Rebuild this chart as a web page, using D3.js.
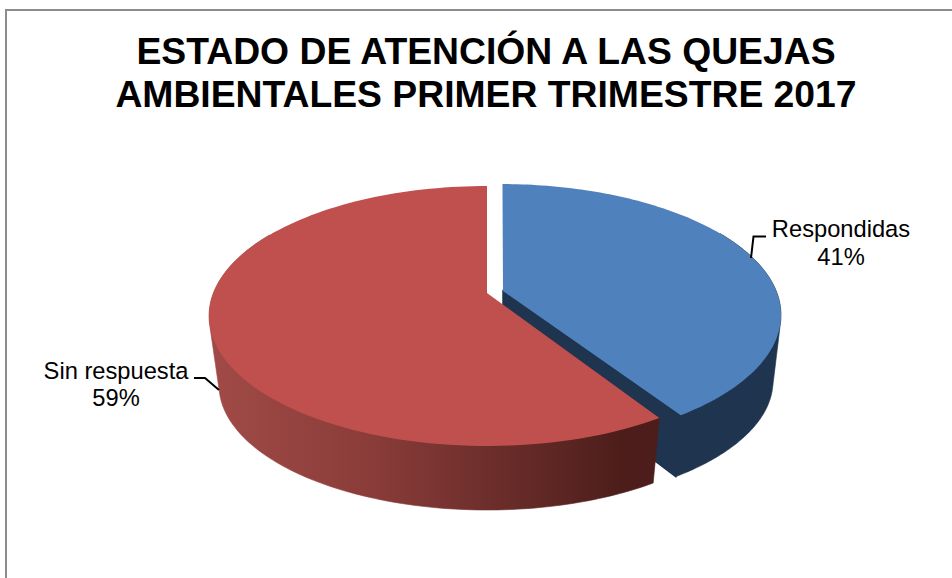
<!DOCTYPE html>
<html><head><meta charset="utf-8">
<script src="https://cdn.jsdelivr.net/npm/d3@7"></script>
<style>html,body{margin:0;padding:0;background:#fff}svg{display:block}text{font-family:"Liberation Sans",Arial,sans-serif;fill:#000}</style>
</head><body><svg id="c" width="952" height="578"></svg>
<script>
const categories = ["Respondidas", "Sin respuesta"];
const values = [41, 59];
const titleLines = ["ESTADO DE ATENCIÓN A LAS QUEJAS", "AMBIENTALES PRIMER TRIMESTRE 2017"];

const svg = d3.select("#c");
const K = 0.177;
const toRad = Math.PI / 180;

// perspective projection of a point on the unit disc into a unit-circle frame
function project(theta) {
  const x = Math.sin(theta), y = -Math.cos(theta), w = 1 - K * y;
  return [x * Math.sqrt(1 - K * K) / w, y / w * (1 - K * K) - K];
}
const slices = d3.pie().sort(null)(values).map((d, i) => ({...d, name: categories[i]}));
const looks = [
  {face:"#4f81bd", wall:"#1f344f", top:{cx:500,cy:315,rx:281,ry:131}, bottom:{cx:500,cy:381,rx:273,ry:125},
   apex:[503,291], apexBottom:[503,346], startAdj:0.6, endAdj:-1.5, wallFrom:60, wallTo:null},
  {face:"#c0504d", wall:"url(#redWall)", top:{cx:487,cy:316,rx:278,ry:130}, bottom:{cx:487,cy:385,rx:268,ry:125},
   apex:[487,293], apexBottom:null, startAdj:0, endAdj:0, wallFrom:null, wallTo:300}
];
const rim = (e, t) => { const p = project(t); return [e.cx + e.rx * p[0], e.cy + e.ry * p[1]]; };
const sweep = (a, b) => d3.range(0, 121).map(i => a + (b - a) * i / 120);
const line = d3.line();

const defs = svg.append("defs");
const g = defs.append("linearGradient").attr("id","redWall").attr("gradientUnits","userSpaceOnUse")
  .attr("x1",215).attr("x2",660).attr("y1",0).attr("y2",0);
[[0,"#a04a47"],[0.35,"#8a3c39"],[0.7,"#642a27"],[0.92,"#4c1d1a"],[1,"#4c1d1a"]].forEach(s=>g.append("stop").attr("offset",s[0]).attr("stop-color",s[1]));

// frame
svg.append("path").attr("d","M6,578V10H952").attr("fill","none").attr("stroke","#8c8c8c").attr("stroke-width",2);

slices.forEach((s, i) => {
  const L = looks[i];
  const a = s.startAngle + L.startAdj * toRad, b = s.endAngle + L.endAdj * toRad;
  // walls
  const wa = L.wallFrom !== null ? L.wallFrom * toRad : a;
  const wb = L.wallTo !== null ? L.wallTo * toRad : b;
  const pts = sweep(wa, wb);
  const hull = d3.polygonHull(pts.map(t => rim(L.top, t)).concat(pts.map(t => rim(L.bottom, t))));
  svg.append("path").attr("d", line(hull)+"Z").attr("fill", L.wall).attr("stroke", L.wall).attr("stroke-width",0.6);
  if (L.apexBottom) {
    svg.append("path").attr("d", line([L.apex, rim(L.top, b), rim(L.bottom, b), L.apexBottom])+"Z").attr("fill", L.wall).attr("stroke", L.wall).attr("stroke-width",1.5);
  }
  // top face
  svg.append("path").attr("d", line([L.apex].concat(sweep(a, b).map(t => rim(L.top, t))))+"Z").attr("fill", L.face);
});

// title
svg.selectAll("text.t").data(titleLines).join("text").attr("class","t")
  .attr("x",486).attr("y",(d,i)=>[64,107][i]).attr("text-anchor","middle")
  .attr("font-size",37.3).attr("font-weight","bold").text(d=>d);

// labels
const labelPos = [[841,[237,265]],[116,[379,406]]];
slices.forEach((s,i)=>{
  [s.name, Math.round(s.value)+"%"].forEach((t,j)=>{
    svg.append("text").attr("x",labelPos[i][0]).attr("y",labelPos[i][1][j]).attr("text-anchor","middle").attr("font-size",23.7).text(t);
  });
});
// leader lines
[[[751,258],[753.5,236.5],[766,236.5]],[[194,378],[205,378],[219,390]]].forEach(p=>
  svg.append("path").attr("d",line(p)).attr("fill","none").attr("stroke","#000").attr("stroke-width",2));
</script></body></html>
